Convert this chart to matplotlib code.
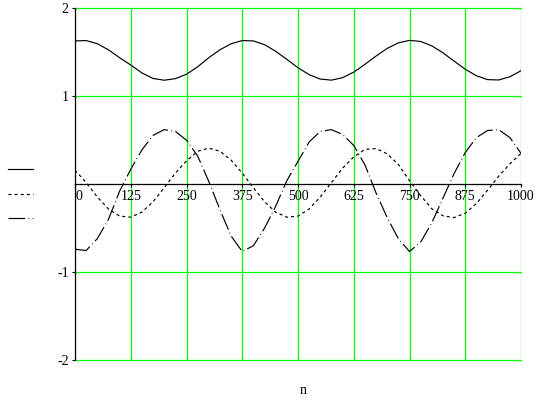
import numpy as np
import matplotlib
matplotlib.use('Agg')
import matplotlib.pyplot as plt
from matplotlib import rcParams

rcParams['font.family'] = ['Liberation Serif', 'DejaVu Serif']
rcParams['axes.unicode_minus'] = False
rcParams['lines.scale_dashes'] = False

# values, one sample every 25 steps of n
n = list(range(0, 1001, 25))
solid = [1.629, 1.633, 1.597, 1.528, 1.438, 1.355, 1.265, 1.202, 1.182, 1.200, 1.250,
         1.335, 1.438, 1.528, 1.597, 1.633, 1.629, 1.586, 1.511, 1.419, 1.324, 1.245,
         1.195, 1.183, 1.211, 1.274, 1.362, 1.457, 1.544, 1.607, 1.635, 1.623, 1.573,
         1.494, 1.399, 1.307, 1.233, 1.189, 1.185, 1.221, 1.290]
dotted = [0.16, 0.018, -0.146, -0.282, -0.363, -0.376, -0.318, -0.200, -0.042, 0.125, 0.265,
          0.374, 0.410, 0.374, 0.273, 0.125, -0.042, -0.200, -0.319, -0.376, -0.363, -0.282,
          -0.146, 0.018, 0.182, 0.310, 0.395, 0.405, 0.345, 0.224, 0.04, -0.13, -0.28,
          -0.36, -0.38, -0.33, -0.22, -0.07, 0.09, 0.23, 0.35]
dashed = [-0.74, -0.755, -0.62, -0.40, -0.08, 0.17, 0.39, 0.555, 0.62, 0.60, 0.50,
          0.32, 0.03, -0.29, -0.59, -0.766, -0.70, -0.50, -0.25, 0.04, 0.26, 0.48,
          0.60, 0.62, 0.565, 0.44, 0.22, -0.10, -0.38, -0.62, -0.766, -0.66, -0.44,
          -0.16, 0.12, 0.36, 0.53, 0.61, 0.62, 0.53, 0.35]

xticks = [0, 125, 250, 375, 500, 625, 750, 875, 1000]
yticks = [-2, -1, 1, 2]
green = '#00ff00'

fig = plt.figure(figsize=(5.46, 4.03), dpi=100)
ax = fig.add_axes([75 / 546, 1 - 360 / 403, 446 / 546, 351.7 / 403])

l1, = ax.plot(n, solid, color='black', lw=0.85)
l2, = ax.plot(n, dotted, color='black', lw=0.85, linestyle=(0, (2.2, 2.2)))
l3, = ax.plot(n, dashed, color='black', lw=0.85, linestyle=(0, (12, 2.4, 0.6, 2.4)))

ax.set_xlim(0, 1000)
ax.set_ylim(-2, 2)
ax.set_xticks(xticks)
ax.set_yticks(yticks)
ax.set_yticklabels([str(v) for v in yticks])
ax.grid(True, color=green, lw=0.9)
ax.set_axisbelow(True)
for gl in ax.get_xgridlines() + ax.get_ygridlines():
    gl.set_clip_on(False)

for s in ['top', 'right']:
    ax.spines[s].set_visible(False)
ax.spines['bottom'].set_position(('data', 0))
ax.spines['left'].set_linewidth(0.9)
ax.spines['bottom'].set_linewidth(0.9)
ax.tick_params(axis='both', direction='out', length=2.5, width=0.8, labelsize=10, pad=2)
labels = ax.get_xticklabels()
labels[0].set_horizontalalignment('left')

ax.text(0.511, -0.087, 'n', transform=ax.transAxes, ha='center', va='center', fontsize=10)

fig.legend([l1, l2, l3], [' ', ' ', ' '], loc='center left',
           bbox_to_anchor=(8 / 546, 1 - 195 / 403), frameon=False,
           handlelength=1.8, handletextpad=0.2, borderpad=0, borderaxespad=0,
           labelspacing=0.85, prop={'size': 10})

fig.savefig('out.png', dpi=100)
